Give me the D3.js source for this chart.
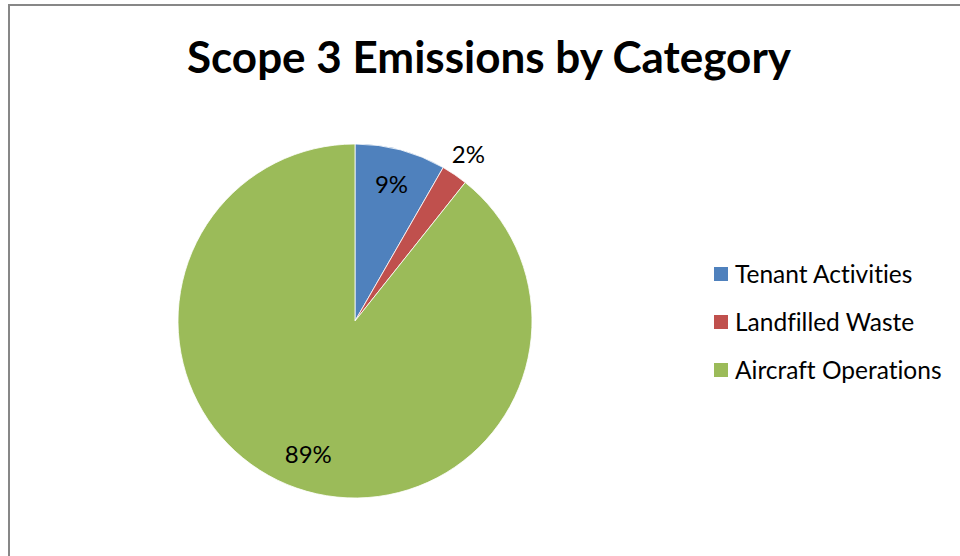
<!DOCTYPE html>
<html>
<head>
<meta charset="utf-8">
<script src="https://cdn.jsdelivr.net/npm/d3@7"></script>
<style>
  body { margin: 0; background: #fff; }
  svg { display: block; font-family: Lato, "Open Sans", sans-serif; font-variant-ligatures: none; }
</style>
</head>
<body>
<svg id="chart" width="960" height="556"></svg>
<script>
// chart data
var categories = ["Tenant Activities", "Landfilled Waste", "Aircraft Operations"];
var values = [8.3, 2.4, 89.3];
var pctLabels = ["9%", "2%", "89%"];
var colors = ["#4F81BD", "#C0504D", "#9BBB59"];

var svg = d3.select("#chart");
var W = 960, H = 556;

// frame (only top and left edges are inside the picture)
svg.append("rect")
    .attr("x", 9).attr("y", 5)
    .attr("width", W + 20).attr("height", H + 20)
    .attr("fill", "#fff")
    .attr("stroke", "#878787")
    .attr("stroke-width", 2);

svg.append("text")
    .attr("x", 489).attr("y", 73)
    .attr("text-anchor", "middle")
    .attr("font-weight", "bold")
    .attr("font-size", 44)
    .attr("fill", "#000")
    .text("Scope 3 Emissions by Category");

// pie
var cx = 355, cy = 321, r = 177;

var pie = d3.pie().sort(null).value(function(d) { return d; });
var arcs = pie(values);

var arc = d3.arc().innerRadius(0).outerRadius(r);
var inLabel = d3.arc().innerRadius(r * 0.8).outerRadius(r * 0.8);
var outLabel = d3.arc().innerRadius(r * 1.14).outerRadius(r * 1.14);

var g = svg.append("g").attr("transform", "translate(" + cx + "," + cy + ")");

g.selectAll("path.slice")
    .data(arcs)
    .enter().append("path")
    .attr("class", "slice")
    .attr("d", arc)
    .attr("fill", function(d, i) { return colors[i]; })
    .attr("stroke", "#fff")
    .attr("stroke-width", 0.8);

// small slices get their label outside the pie
g.selectAll("text.pct")
    .data(arcs)
    .enter().append("text")
    .attr("class", "pct")
    .attr("transform", function(d) {
        var small = (d.endAngle - d.startAngle) < 0.3;
        var c = (small ? outLabel : inLabel).centroid(d);
        return "translate(" + c[0] + "," + c[1] + ")";
    })
    .attr("dy", "0.35em")
    .attr("text-anchor", "middle")
    .attr("font-size", 24)
    .attr("fill", "#000")
    .text(function(d, i) { return pctLabels[i]; });

// legend
var legend = svg.append("g").attr("transform", "translate(714,267)");
var rowH = 48;

var item = legend.selectAll("g.item")
    .data(categories)
    .enter().append("g")
    .attr("class", "item")
    .attr("transform", function(d, i) { return "translate(0," + (i * rowH) + ")"; });

item.append("rect")
    .attr("width", 14).attr("height", 14)
    .attr("fill", function(d, i) { return colors[i]; });

item.append("text")
    .attr("x", 21).attr("y", 7)
    .attr("dy", "0.35em")
    .attr("font-size", 24.5)
    .attr("fill", "#000")
    .text(function(d) { return d; });
</script>
</body>
</html>
